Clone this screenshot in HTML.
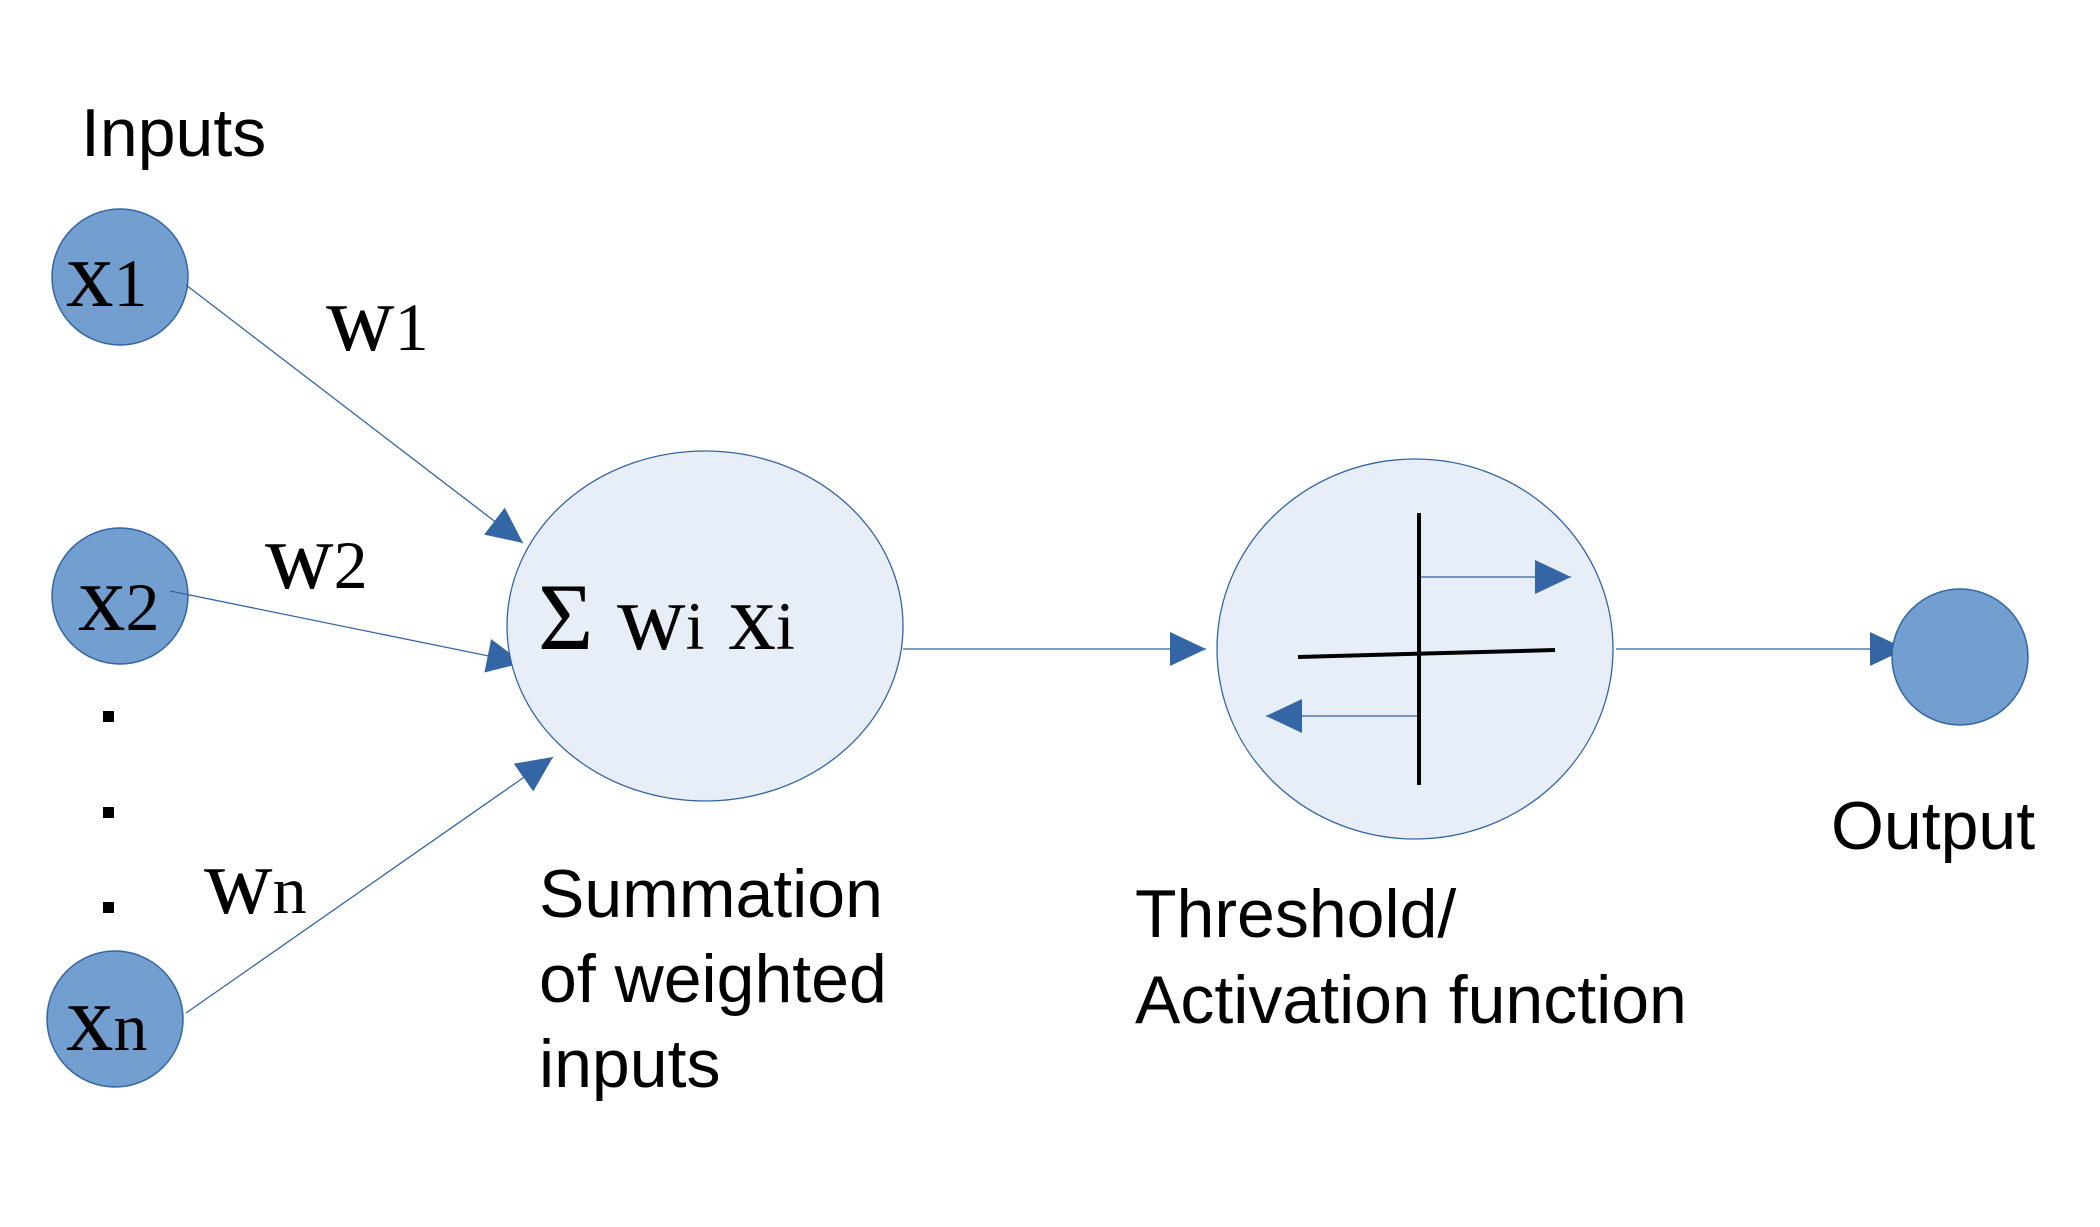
<!DOCTYPE html>
<html><head><meta charset="utf-8"><style>
html,body{margin:0;padding:0;background:#fff}
svg{display:block}
.s{font-family:"Liberation Sans",sans-serif;font-size:68px;fill:#000}
.m{font-family:"Liberation Serif",serif;fill:#000}
</style></head><body>
<svg width="2100" height="1227" viewBox="0 0 2100 1227" xmlns="http://www.w3.org/2000/svg">
<defs>
<marker id="a" markerUnits="userSpaceOnUse" markerWidth="40" markerHeight="40" refX="36" refY="17" orient="auto">
<path d="M0,0 L36,17 L0,34 Z" fill="#3465a4"/>
</marker>
</defs>
<text class="s" x="81" y="156">Inputs</text>
<!-- input circles -->
<ellipse cx="120" cy="277" rx="68" ry="68" fill="#729fcf" stroke="#3465a4" stroke-width="1.5"/>
<ellipse cx="120" cy="596" rx="68" ry="68" fill="#729fcf" stroke="#3465a4" stroke-width="1.5"/>
<ellipse cx="115" cy="1019" rx="68" ry="68" fill="#729fcf" stroke="#3465a4" stroke-width="1.5"/>
<text class="m" x="66" y="306" font-size="95">x<tspan font-size="68">1</tspan></text>
<text class="m" x="78" y="630" font-size="95">x<tspan font-size="68">2</tspan></text>
<text class="m" x="66" y="1050" font-size="95">x<tspan font-size="68">n</tspan></text>
<rect x="103" y="711" width="11" height="11" fill="#000"/>
<rect x="103" y="807" width="11" height="11" fill="#000"/>
<rect x="103" y="902" width="11" height="11" fill="#000"/>
<!-- connectors -->
<line x1="186" y1="285" x2="523" y2="543" stroke="#3465a4" stroke-width="1.3" marker-end="url(#a)"/>
<line x1="170" y1="591" x2="523" y2="663" stroke="#3465a4" stroke-width="1.3" marker-end="url(#a)"/>
<line x1="186" y1="1013" x2="553" y2="757" stroke="#3465a4" stroke-width="1.3" marker-end="url(#a)"/>
<text class="m" x="326" y="350" font-size="95">w<tspan font-size="68">1</tspan></text>
<text class="m" x="265" y="588" font-size="95">w<tspan font-size="68">2</tspan></text>
<text class="m" x="204" y="913" font-size="95">w<tspan font-size="68">n</tspan></text>
<!-- summation -->
<ellipse cx="705" cy="626" rx="198" ry="175" fill="#e8eef7" stroke="#3465a4" stroke-width="1.3"/>
<text class="m" x="538" y="649" font-size="95">Σ w<tspan font-size="68">i</tspan> x<tspan font-size="68">i</tspan></text>
<text class="s" x="539" y="917">Summation</text>
<text class="s" x="539" y="1002">of weighted</text>
<text class="s" x="539" y="1087">inputs</text>
<line x1="903" y1="649" x2="1206" y2="649" stroke="#3465a4" stroke-width="1.3" marker-end="url(#a)"/>
<!-- threshold -->
<ellipse cx="1415" cy="649" rx="198" ry="190" fill="#e8eef7" stroke="#3465a4" stroke-width="1.3"/>
<line x1="1419" y1="513" x2="1419" y2="785" stroke="#000" stroke-width="4"/>
<line x1="1298" y1="657" x2="1555" y2="650" stroke="#000" stroke-width="4"/>
<line x1="1421" y1="577" x2="1571" y2="577" stroke="#3465a4" stroke-width="1.3" marker-end="url(#a)"/>
<line x1="1417" y1="716" x2="1266" y2="716" stroke="#3465a4" stroke-width="1.3" marker-end="url(#a)"/>
<text class="s" x="1135" y="937">Threshold/</text>
<text class="s" x="1135" y="1023">Activation function</text>
<line x1="1616" y1="649" x2="1906" y2="649" stroke="#3465a4" stroke-width="1.3" marker-end="url(#a)"/>
<!-- output -->
<ellipse cx="1960" cy="657" rx="68" ry="68" fill="#729fcf" stroke="#3465a4" stroke-width="1.5"/>
<text class="s" x="1831" y="849">Output</text>
</svg>
</body></html>
